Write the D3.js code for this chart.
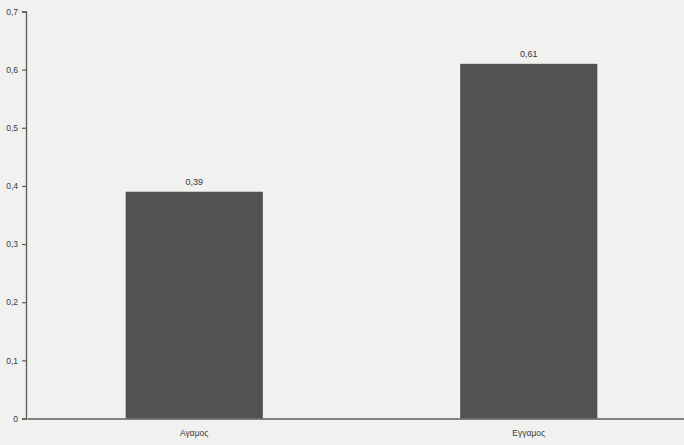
<!DOCTYPE html>
<html>
<head>
<meta charset="utf-8">
<script src="https://cdn.jsdelivr.net/npm/d3@7"></script>
<style>
  html, body { margin: 0; padding: 0; background: #f1f1f0; }
  svg { display: block; }
  text { font-family: "Liberation Sans", Arial, sans-serif; fill: #3a3a3a; }
</style>
</head>
<body>
<svg id="chart" width="684" height="445"></svg>
<script>
// Marital status categories and their shares
const categories = ["Αγαμος", "Εγγαμος"];
const values = [0.39, 0.61];
const yTicks = [0, 0.1, 0.2, 0.3, 0.4, 0.5, 0.6, 0.7];

const svg = d3.select("#chart");

const y = d3.scaleLinear().domain([0, 0.7]).range([418.5, 11.5]);
const x = d3.scaleBand().domain(categories).range([27, 696]).paddingInner(0.59).paddingOuter(0.295);

const fmt = v => d3.format(".1f")(v).replace(".", ",");
const fmtVal = v => d3.format(".2f")(v).replace(".", ",");

// bars
svg.append("g").selectAll("rect").data(values).join("rect")
  .attr("x", (d, i) => x(categories[i]))
  .attr("y", d => y(d))
  .attr("width", x.bandwidth())
  .attr("height", d => y(0) - y(d))
  .attr("fill", "#525252");

// value labels
svg.append("g").selectAll("text").data(values).join("text")
  .attr("x", (d, i) => x(categories[i]) + x.bandwidth() / 2)
  .attr("y", d => y(d) - 7)
  .attr("text-anchor", "middle")
  .attr("font-size", 9)
  .text(d => fmtVal(d));

// y axis
const yAxis = d3.axisLeft(y).tickValues(yTicks).tickSize(4).tickPadding(4)
  .tickFormat(d => d === 0 ? "0" : fmt(d));
const gy = svg.append("g").attr("transform", "translate(26,0)").call(yAxis);
gy.select(".domain").attr("stroke", "#5a5a5a").attr("stroke-width", 1.3);
gy.selectAll(".tick line").attr("stroke", "#5a5a5a").attr("stroke-width", 1.2);
gy.selectAll(".tick text").attr("font-size", 8.5).style("fill", "#3a3a3a");

// x axis
const xAxis = d3.axisBottom(x).tickSize(0).tickPadding(11);
const gx = svg.append("g").attr("transform", `translate(0,${y(0)})`).call(xAxis);
gx.select(".domain").attr("stroke", "#5a5a5a").attr("stroke-width", 1.6);
gx.selectAll(".tick text").attr("font-size", 8.5).style("fill", "#3a3a3a");
</script>
</body>
</html>
